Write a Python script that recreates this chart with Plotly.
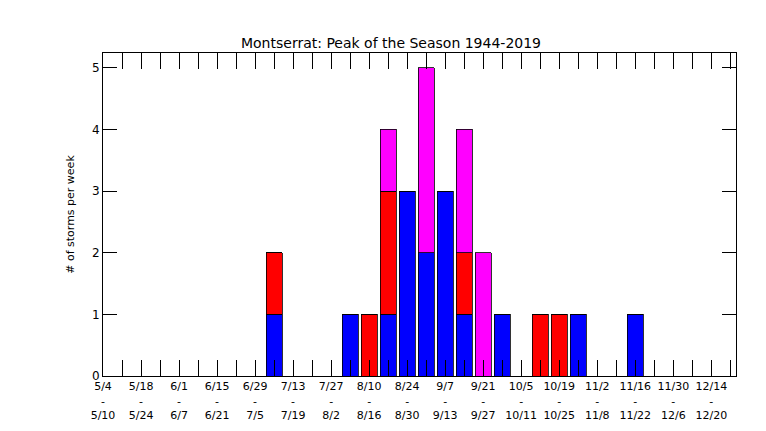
import plotly.graph_objects as go

week_idx = [9, 13, 14, 15, 16, 17, 18, 19, 20, 21, 23, 24, 25, 28]
blue = [1, 1, 0, 1, 3, 2, 3, 1, 0, 1, 0, 0, 1, 1]
red = [1, 0, 1, 2, 0, 0, 0, 1, 0, 0, 1, 1, 0, 0]
magenta = [0, 0, 0, 1, 0, 3, 0, 2, 2, 0, 0, 0, 0, 0]

tick_labels = ["5/4<br>-<br>5/10", "5/18<br>-<br>5/24", "6/1<br>-<br>6/7", "6/15<br>-<br>6/21",
               "6/29<br>-<br>7/5", "7/13<br>-<br>7/19", "7/27<br>-<br>8/2", "8/10<br>-<br>8/16",
               "8/24<br>-<br>8/30", "9/7<br>-<br>9/13", "9/21<br>-<br>9/27", "10/5<br>-<br>10/11",
               "10/19<br>-<br>10/25", "11/2<br>-<br>11/8", "11/16<br>-<br>11/22", "11/30<br>-<br>12/6",
               "12/14<br>-<br>12/20"]

tickvals = list(range(0, 34))
ticktext = [tick_labels[i // 2] if i % 2 == 0 else "" for i in tickvals]

fig = go.Figure()
for vals, col in [(blue, "#0000ff"), (red, "#ff0000"), (magenta, "#ff00ff")]:
    fig.add_trace(go.Bar(x=week_idx, y=vals, width=0.84, marker_color=col,
                         marker_line=dict(color="black", width=0.8)))

fig.update_layout(
    barmode="stack", showlegend=False, width=766, height=431,
    margin=dict(l=95, r=38, t=45, b=63),
    paper_bgcolor="white", plot_bgcolor="white",
    font=dict(family="DejaVu Sans", size=12, color="black"),
    title=dict(text="Montserrat: Peak of the Season 1944-2019", x=0.5, xanchor="center",
               y=0.93, font=dict(size=14)),
    xaxis=dict(range=[0, 33.3], tickvals=tickvals, ticktext=ticktext, ticks="inside",
               ticklen=16, tickcolor="black", mirror="ticks", showline=True, linecolor="black",
               linewidth=1, showgrid=False, zeroline=False, tickangle=0,
               tickfont=dict(size=11)),
    yaxis=dict(range=[0, 5.24], dtick=1, ticks="inside", ticklen=14, tickcolor="black",
               mirror="ticks", showline=True, linecolor="black", linewidth=1, showgrid=False,
               zeroline=False, title=dict(text="# of storms per week", font=dict(size=11))),
    annotations=[dict(text="© 2020 stormcarib.com", xref="paper", yref="paper", x=1.05, y=-0.2,
                      xanchor="right", yanchor="top", showarrow=False,
                      font=dict(family="DejaVu Sans Mono", size=12))],
)
fig.write_html("out.html")
